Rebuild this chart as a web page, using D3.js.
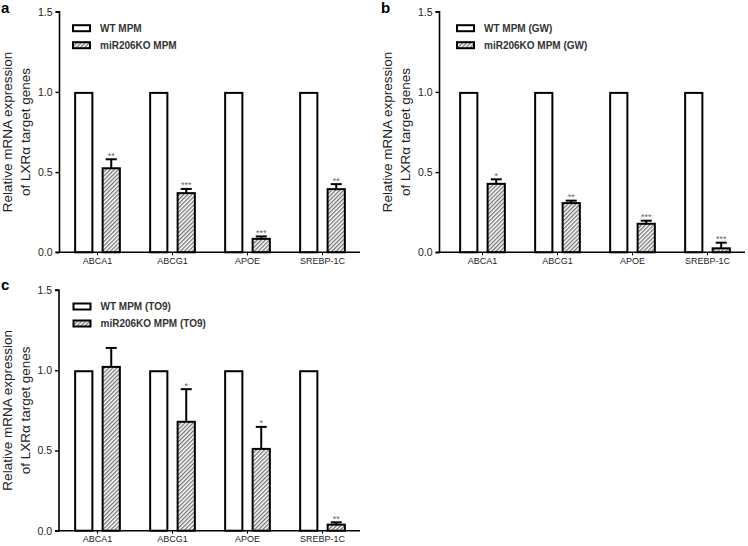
<!DOCTYPE html>
<html>
<head>
<meta charset="utf-8">
<script src="https://cdn.jsdelivr.net/npm/d3@7"></script>
<style>
  html, body { margin: 0; padding: 0; background: #fff; }
  svg { display: block; font-family: "Liberation Sans", Arial, Helvetica, sans-serif; }
</style>
</head>
<body>
<svg id="chart" width="748" height="546"></svg>
<script>
// ---------------- DATA ----------------
const categories = ["ABCA1", "ABCG1", "APOE", "SREBP-1C"];
const yTickValues = [0, 0.5, 1.0, 1.5];

const wtA = [1, 1, 1, 1];
const koA = [0.53, 0.375, 0.09, 0.40];
const errA = [0.05, 0.02, 0.009, 0.025];
const sigA = ["**", "***", "***", "**"];
const legendA = ["WT MPM", "miR206KO MPM"];

const wtB = [1, 1, 1, 1];
const koB = [0.433, 0.313, 0.184, 0.031];
const errB = [0.022, 0.009, 0.013, 0.029];
const sigB = ["*", "**", "***", "***"];
const legendB = ["WT MPM (GW)", "miR206KO MPM (GW)"];

const wtC = [1, 1, 1, 1];
const koC = [1.027, 0.685, 0.516, 0.044];
const errC = [0.112, 0.197, 0.131, 0.008];
const sigC = ["", "*", "*", "**"];
const legendC = ["WT MPM (TO9)", "miR206KO MPM (TO9)"];

const yTitle1 = "Relative mRNA expression";
const yTitle2 = "of LXR\u03B1 target genes";

// ---------------- LAYOUT ----------------
const panels = [
  { label: "a", wt: wtA, ko: koA, err: errA, sig: sigA, legend: legendA,
    left: 0, axisX: 59.5, band: [60, 360], yBottom: 252.3, yTop: 11.7, legX: 72, labelY: 12.5 },
  { label: "b", wt: wtB, ko: koB, err: errB, sig: sigB, legend: legendB,
    left: 380, axisX: 439.5, band: [445, 745], yBottom: 252.3, yTop: 11.7, legX: 456, labelY: 12.5 },
  { label: "c", wt: wtC, ko: koC, err: errC, sig: sigC, legend: legendC,
    left: 0, axisX: 59, band: [60, 360], yBottom: 530.7, yTop: 290, legX: 72.5, labelY: 290 }
];

const svg = d3.select("#chart");
const defs = svg.append("defs");
const pat = defs.append("pattern")
  .attr("id", "hatch")
  .attr("patternUnits", "userSpaceOnUse")
  .attr("width", 2.9).attr("height", 2.9)
  .attr("patternTransform", "rotate(45)");
pat.append("rect").attr("width", 2.9).attr("height", 2.9).attr("fill", "#fff");
pat.append("line").attr("x1", 0.7).attr("y1", 0).attr("x2", 0.7).attr("y2", 2.9)
  .attr("stroke", "#5a5a5a").attr("stroke-width", 1.1);

const seriesKeys = ["wt", "ko"];

panels.forEach(p => {
  const g = svg.append("g");

  const y = d3.scaleLinear().domain([0, 1.5]).range([p.yBottom, p.yTop]);
  const x = d3.scaleBand().domain(categories).range(p.band)
    .paddingInner(0.377).paddingOuter(0.1885);
  const xs = d3.scaleBand().domain(seriesKeys).range([0, x.bandwidth()])
    .paddingInner(0.3).paddingOuter(0);

  // panel label
  g.append("text").attr("x", p.left + 1).attr("y", p.labelY)
    .attr("font-size", 15).attr("font-weight", "bold").attr("fill", "#000")
    .text(p.label);

  // y axis title
  const midY = (p.yTop + p.yBottom) / 2;
  const tt = g.append("text")
    .attr("transform", `translate(${p.left + 11.5},${midY}) rotate(-90)`)
    .attr("text-anchor", "middle").attr("font-size", 13.5).attr("fill", "#222");
  tt.append("tspan").attr("x", 0).attr("y", 0).text(yTitle1);
  tt.append("tspan").attr("x", 0).attr("y", 18.5).text(yTitle2);

  // bars
  categories.forEach((cat, i) => {
    const gx = x(cat);
    const vals = { wt: p.wt[i], ko: p.ko[i] };
    seriesKeys.forEach(k => {
      const bx = gx + xs(k);
      const bw = xs.bandwidth();
      const v = vals[k];
      g.append("rect")
        .attr("x", bx + 1).attr("y", y(v) + 1)
        .attr("width", bw - 2).attr("height", Math.max(0, y(0) - y(v) - 1))
        .attr("fill", k === "wt" ? "#fff" : "url(#hatch)")
        .attr("stroke", "#000").attr("stroke-width", 2);
    });
    // error bar for KO
    const cx = gx + xs("ko") + xs.bandwidth() / 2;
    const top = p.ko[i] + p.err[i];
    g.append("line").attr("x1", cx).attr("x2", cx)
      .attr("y1", y(p.ko[i]) + 1).attr("y2", y(top))
      .attr("stroke", "#000").attr("stroke-width", 2);
    g.append("line").attr("x1", cx - 5.5).attr("x2", cx + 5.5)
      .attr("y1", y(top)).attr("y2", y(top))
      .attr("stroke", "#000").attr("stroke-width", 2);
    if (p.sig[i]) {
      g.append("text").attr("x", cx).attr("y", y(top) - 0.5)
        .attr("text-anchor", "middle").attr("font-size", 9).attr("fill", "#666")
        .text(p.sig[i]);
    }
  });

  // y axis
  const yAxis = d3.axisLeft(y).tickValues(yTickValues)
    .tickFormat(d3.format(".1f")).tickSize(4).tickPadding(3);
  const ya = g.append("g").attr("transform", `translate(${p.axisX},0)`).call(yAxis);
  ya.select(".domain").attr("stroke-width", 1.6).attr("d", `M-4,${p.yTop}H0V${p.yBottom}H-4`);
  ya.selectAll(".tick line").attr("stroke-width", 1.4);
  ya.selectAll(".tick text").attr("font-size", 10.5).attr("fill", "#222")
    .attr("font-family", "Liberation Sans, Arial, sans-serif");

  // x axis
  const xAxis = d3.axisBottom(x).tickSize(3).tickPadding(2).tickSizeOuter(0);
  const xa = g.append("g").attr("transform", `translate(0,${p.yBottom})`).call(xAxis);
  xa.select(".domain").attr("stroke-width", 1.6)
    .attr("d", `M${p.axisX - 0.8},0H${p.band[1]}`);
  xa.selectAll(".tick line").attr("stroke-width", 1);
  xa.selectAll(".tick text").attr("font-size", 9).attr("fill", "#222")
    .attr("font-family", "Liberation Sans, Arial, sans-serif");

  // legend
  const legTop = p.yTop + 13.5;
  p.legend.forEach((name, j) => {
    const ly = legTop + j * 17;
    g.append("rect").attr("x", p.legX + 1).attr("y", ly)
      .attr("width", 17).attr("height", 6)
      .attr("fill", j === 0 ? "#fff" : "url(#hatch)")
      .attr("stroke", "#000").attr("stroke-width", 2);
    g.append("text").attr("x", p.legX + 28).attr("y", ly + 3)
      .attr("dy", "0.35em").attr("font-size", 10).attr("font-weight", "bold")
      .attr("fill", "#333").text(name);
  });
});
</script>
</body>
</html>
